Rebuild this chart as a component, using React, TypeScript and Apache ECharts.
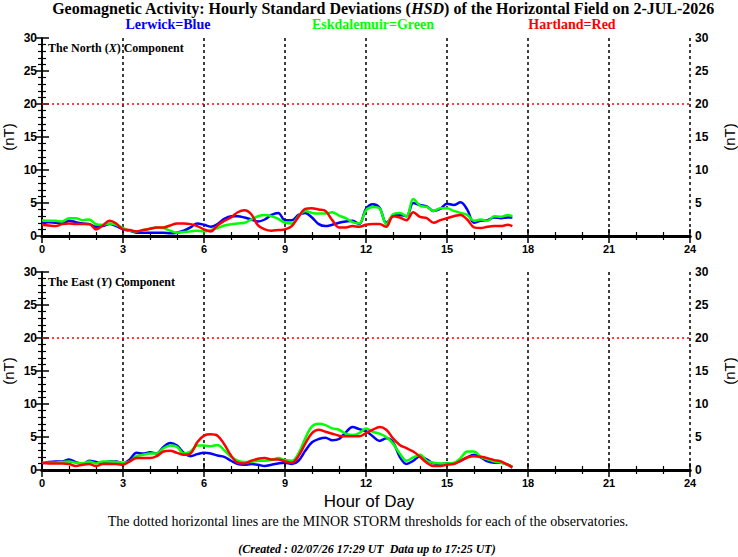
import { useRef, useEffect } from 'react'
import * as echarts from 'echarts'

// time of each sample, hours UT
const HOURS = [
  0, 0.25, 0.5, 0.75, 1, 1.25, 1.5, 1.75, 2, 2.25, 2.5, 2.75,
  3, 3.25, 3.5, 3.75, 4, 4.25, 4.5, 4.75, 5, 5.25, 5.5, 5.75,
  6, 6.25, 6.5, 6.75, 7, 7.25, 7.5, 7.75, 8, 8.25, 8.5, 8.75,
  9, 9.25, 9.5, 9.75, 10, 10.25, 10.5, 10.75, 11, 11.25, 11.5, 11.75,
  12, 12.25, 12.5, 12.75, 13, 13.25, 13.5, 13.75, 14, 14.25, 14.5, 14.75,
  15, 15.25, 15.5, 15.75, 16, 16.25, 16.5, 16.75, 17, 17.25, 17.42,
]

// North (X) component, nT
const northLerwick = [
  1.9, 2.1, 2.0, 1.9, 2.3, 2.1, 1.9, 1.8, 1.4, 1.5, 1.8, 1.5,
  1.0, 0.8, 0.5, 0.5, 0.5, 0.5, 0.5, 0.4, 0.5, 0.8, 1.3, 1.9,
  1.7, 1.4, 1.8, 2.6, 3.0, 3.0, 2.8, 2.5, 2.2, 2.5, 3.2, 3.5,
  2.4, 2.4, 3.2, 3.5, 2.8, 1.8, 1.5, 1.7, 2.0, 2.2, 2.3, 1.8,
  4.1, 4.8, 4.3, 2.0, 3.0, 3.2, 3.0, 5.0, 4.7, 4.5, 3.8, 4.1,
  4.9, 4.7, 5.1, 4.0, 2.0, 2.3, 2.4, 2.8, 2.7, 2.8, 2.8,
]
const northEskdalemuir = [
  2.4, 2.3, 2.3, 2.2, 2.7, 2.7, 2.4, 2.5, 1.8, 1.7, 1.9, 1.7,
  1.2, 0.8, 0.7, 0.9, 1.1, 1.3, 1.2, 0.8, 0.5, 0.6, 0.7, 0.8,
  0.7, 0.9, 1.2, 1.6, 1.8, 1.9, 2.0, 2.5, 3.0, 3.2, 3.0, 2.6,
  2.0, 1.9, 3.0, 3.8, 3.5, 3.4, 3.4, 3.6, 3.1, 2.7, 2.1, 1.9,
  3.9, 4.4, 4.2, 1.8, 3.3, 3.5, 3.0, 5.6, 4.6, 4.4, 3.8, 4.2,
  4.2, 3.8, 3.5, 3.2, 2.3, 2.5, 2.3, 3.0, 2.9, 3.2, 3.0,
]
const northHartland = [
  1.7, 1.6, 1.5, 1.8, 1.9, 1.8, 1.8, 1.8, 1.0, 1.6, 2.3, 1.9,
  1.0, 0.9, 0.7, 0.9, 1.1, 1.3, 1.3, 1.6, 1.9, 1.9, 1.8, 1.5,
  1.0, 0.7, 1.6, 2.3, 2.8, 3.6, 3.9, 3.3, 1.6, 1.0, 0.8, 0.9,
  1.0, 1.5, 2.9, 4.1, 4.2, 4.0, 3.8, 2.4, 1.3, 1.3, 1.5, 1.4,
  1.7, 1.8, 1.8, 1.4, 3.0, 2.8, 2.4, 3.6, 2.9, 2.7, 2.0, 2.4,
  2.7, 3.0, 3.2, 2.5, 1.3, 1.2, 1.4, 1.5, 1.5, 1.7, 1.5,
]

// East (Y) component, nT
const eastLerwick = [
  1.0, 1.2, 1.3, 1.3, 1.6, 1.2, 0.9, 1.4, 1.2, 1.0, 1.3, 1.3,
  1.0, 1.6, 2.6, 2.5, 2.7, 2.5, 3.5, 4.1, 3.7, 2.6, 2.1, 2.4,
  2.6, 2.5, 2.2, 2.0, 1.4, 0.9, 0.8, 0.9, 0.8, 0.6, 0.8, 1.0,
  1.1, 0.9, 1.4, 2.9, 4.2, 4.7, 4.9, 4.5, 4.7, 5.7, 6.5, 6.2,
  5.9, 5.1, 4.4, 4.8, 4.2, 2.0, 0.9, 1.4, 2.1, 1.6, 1.0, 0.9,
  1.0, 1.0, 1.4, 1.9, 2.3, 1.9, 1.3, 1.1, 1.1, 0.8, 0.4,
]
const eastEskdalemuir = [
  1.1, 1.1, 1.1, 1.2, 1.3, 1.1, 1.0, 1.3, 1.0, 1.3, 1.3, 1.2,
  1.1, 1.3, 2.1, 2.3, 2.5, 2.5, 3.3, 3.7, 3.5, 2.5, 2.8, 3.7,
  3.7, 3.6, 3.8, 3.0, 2.0, 1.4, 1.2, 1.2, 1.4, 1.4, 1.5, 1.8,
  1.5, 1.4, 2.5, 4.8, 6.6, 7.0, 6.8, 6.3, 6.1, 5.5, 5.3, 5.6,
  6.3, 5.8, 5.5, 5.0, 4.0, 2.5, 1.4, 1.9, 2.3, 1.4, 1.1, 1.0,
  1.0, 1.1, 1.8, 2.8, 2.8, 2.0, 1.6, 1.3, 1.1, 0.8, 0.5,
]
const eastHartland = [
  1.1, 1.0, 1.0, 1.0, 0.9, 0.6, 0.8, 0.9, 0.6, 0.9, 0.9, 0.9,
  0.8, 1.3, 1.8, 1.8, 1.8, 2.1, 2.8, 2.9, 2.6, 2.3, 2.5, 4.2,
  5.2, 5.4, 5.2, 3.9, 2.2, 1.1, 1.0, 1.4, 1.7, 1.8, 1.6, 1.6,
  1.3, 1.1, 2.1, 4.0, 5.6, 6.1, 5.8, 5.5, 5.2, 5.1, 5.1, 5.1,
  5.6, 6.1, 6.5, 6.1, 4.8, 3.8, 3.3, 2.8, 2.0, 1.1, 0.6, 0.6,
  0.8, 0.9, 1.4, 1.9, 2.1, 2.0, 1.8, 1.5, 1.3, 0.8, 0.4,
]

const MINOR_STORM = 20
const HOUR_TICKS = [0, 3, 6, 9, 12, 15, 18, 21, 24]
const NT_TICKS = [0, 5, 10, 15, 20, 25, 30]

const BLUE = '#0000ff'
const GREEN = '#00ff00'
const RED = '#ff0000'
const SANS = '"Liberation Sans", Arial, sans-serif'
const SERIF = '"Liberation Serif", "Times New Roman", serif'

const pairs = (vals: number[]) => vals.map((v, i) => [HOURS[i], v])

export default function App() {
  const ref = useRef<HTMLDivElement>(null)

  useEffect(() => {
    const el = ref.current
    if (!el) return
    const chart = echarts.init(el, null, { renderer: 'svg' })

    const grids = [
      { left: 42, right: 48, top: 38, height: 198, containLabel: false, outerBoundsMode: 'none' },
      { left: 42, right: 48, top: 272, height: 198, containLabel: false, outerBoundsMode: 'none' },
    ]

    const xBottom = (gridIndex: number) => ({
      type: 'value',
      gridIndex,
      position: 'bottom',
      min: HOUR_TICKS[0],
      max: HOUR_TICKS[HOUR_TICKS.length - 1],
      interval: 3,
      axisLine: { show: true, lineStyle: { color: '#000', width: 3 } },
      axisTick: { show: true, inside: true, length: 7, lineStyle: { color: '#000', width: 1.5 } },
      minorTick: { show: true, splitNumber: 3, length: 4, lineStyle: { color: '#000', width: 1.2 } },
      axisLabel: { color: '#000', fontFamily: SANS, fontWeight: 'bold', fontSize: 11, margin: 7 },
      splitLine: { show: true, lineStyle: { color: '#000', width: 1.5, type: [3, 3] } },
    })
    const xTop = (gridIndex: number) => ({
      type: 'value',
      gridIndex,
      position: 'top',
      min: HOUR_TICKS[0],
      max: HOUR_TICKS[HOUR_TICKS.length - 1],
      interval: 3,
      axisLine: { show: true, lineStyle: { color: '#000', width: 3 } },
      axisTick: { show: true, inside: true, length: 7, lineStyle: { color: '#000', width: 1.5 } },
      minorTick: { show: true, splitNumber: 3, length: 4, lineStyle: { color: '#000', width: 1.2 } },
      axisLabel: { show: false },
      splitLine: { show: false },
    })
    const yAxis = (gridIndex: number, position: 'left' | 'right') => ({
      type: 'value',
      gridIndex,
      position,
      min: NT_TICKS[0],
      max: NT_TICKS[NT_TICKS.length - 1],
      interval: 5,
      name: '(nT)',
      nameLocation: 'middle',
      nameRotate: 90,
      nameGap: position === 'left' ? 26 : 32,
      nameMoveOverlap: false,
      nameTextStyle: { color: '#000', fontFamily: SANS, fontSize: 15 },
      axisLine: { show: true, lineStyle: { color: '#000', width: 1.5 } },
      axisTick: { show: true, inside: true, length: 7, lineStyle: { color: '#000', width: 1.5 } },
      minorTick: { show: true, splitNumber: 5, length: 4, lineStyle: { color: '#000', width: 1.2 } },
      axisLabel: { color: '#000', fontFamily: SANS, fontWeight: 'bold', fontSize: 12, margin: 5 },
      splitLine: { show: false },
    })

    const line = (name: string, vals: number[], color: string, axis: number, threshold: boolean) => ({
      name,
      type: 'line',
      xAxisIndex: axis * 2,
      yAxisIndex: axis * 2,
      data: pairs(vals),
      showSymbol: false,
      smooth: 0.35,
      lineStyle: { color, width: 2.5 },
      itemStyle: { color },
      z: 3,
      markLine: threshold
        ? {
            silent: true,
            symbol: 'none',
            label: { show: false },
            lineStyle: { color: RED, width: 1.6, type: [2, 3] },
            data: [{ yAxis: MINOR_STORM }],
          }
        : undefined,
    })

    const text = (x: number, y: number, t: string, style: Record<string, unknown>) => ({
      type: 'text',
      x,
      y,
      style: { text: t, textAlign: 'center', textVerticalAlign: 'middle', fill: '#000', ...style },
    })

    const panelLabel = (y: number, before: string, sym: string, after: string) => ({
      type: 'text',
      x: 48,
      y,
      z: 10,
      style: {
        text: `{b|${before}}{i|${sym}}{b|${after}}`,
        textVerticalAlign: 'middle',
        rich: {
          b: { fontFamily: SERIF, fontWeight: 'bold', fontSize: 12, fill: '#000' },
          i: { fontFamily: SERIF, fontWeight: 'bold', fontStyle: 'italic', fontSize: 12, fill: '#000' },
        },
      },
    })

    chart.setOption({
      animation: false,
      backgroundColor: '#fff',
      grid: grids,
      xAxis: [xBottom(0), xTop(0), xBottom(1), xTop(1)],
      yAxis: [yAxis(0, 'left'), yAxis(0, 'right'), yAxis(1, 'left'), yAxis(1, 'right')],
      series: [
        line('Lerwick', northLerwick, BLUE, 0, false),
        line('Eskdalemuir', northEskdalemuir, GREEN, 0, false),
        line('Hartland', northHartland, RED, 0, true),
        line('Lerwick', eastLerwick, BLUE, 1, false),
        line('Eskdalemuir', eastEskdalemuir, GREEN, 1, false),
        line('Hartland', eastHartland, RED, 1, true),
      ],
      graphic: [
        {
          type: 'text',
          x: 383,
          y: 8,
          style: {
            text: '{b|Geomagnetic Activity: Hourly Standard Deviations (}{i|HSD}{b|) of the Horizontal Field on 2-JUL-2026}',
            textAlign: 'center',
            textVerticalAlign: 'middle',
            rich: {
              b: { fontFamily: SERIF, fontWeight: 'bold', fontSize: 16, lineHeight: 15, fill: '#000' },
              i: { fontFamily: SERIF, fontWeight: 'bold', fontStyle: 'italic', fontSize: 16, lineHeight: 15, fill: '#000' },
            },
          },
        },
        text(168, 24, 'Lerwick=Blue', { fill: BLUE, font: `bold 14px ${SERIF}` }),
        text(373, 24, 'Eskdalemuir=Green', { fill: GREEN, font: `bold 14px ${SERIF}` }),
        text(572, 24, 'Hartland=Red', { fill: RED, font: `bold 14px ${SERIF}` }),
        panelLabel(48, 'The North (', 'X', ')\u00a0Component'),
        panelLabel(282, 'The East (', 'Y', ')\u00a0Component'),
        text(369, 501, 'Hour of Day', { font: `17px ${SANS}` }),
        text(368, 521, 'The dotted horizontal lines are the MINOR STORM thresholds for each of the observatories.', {
          font: `14px ${SERIF}`,
        }),
        text(367, 549, '(Created : 02/07/26 17:29 UT  Data up to 17:25 UT)', {
          font: `italic bold 12px ${SERIF}`,
        }),
      ],
    })

    return () => chart.dispose()
  }, [])

  return <div ref={ref} style={{ position: 'absolute', left: 0, top: 0, width: 738, height: 557 }} />
}
